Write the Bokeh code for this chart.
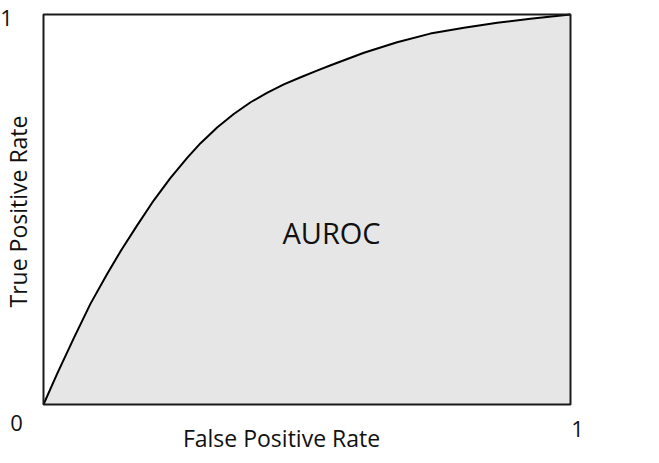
from bokeh.plotting import figure
from bokeh.models import ColumnDataSource
from bokeh.core.properties import value
from bokeh.embed import file_html
from bokeh.resources import INLINE
import math

# ROC curve
fpr = [0, 0.026, 0.0575, 0.089, 0.121, 0.148, 0.178, 0.209, 0.241, 0.273, 0.298,
       0.330, 0.361, 0.393, 0.424, 0.456, 0.488, 0.519, 0.545, 0.608, 0.671,
       0.734, 0.798, 0.861, 0.924, 1.0]
tpr = [0, 0.079, 0.170, 0.258, 0.335, 0.397, 0.460, 0.523, 0.581, 0.633, 0.670,
       0.711, 0.745, 0.775, 0.799, 0.821, 0.839, 0.856, 0.870, 0.902, 0.929,
       0.951, 0.966, 0.979, 0.989, 1.0]
baseline = [0] * len(fpr)

x_title = "False Positive Rate"
y_title = "True Positive Rate"
area_label = "AUROC"
tick_labels = ["0", "1", "1"]

FONT = "Open Sans"
W, H = 659, 463
# plot box in pixels: left 43, right 570, top 14, bottom 404
BOX_L, BOX_R, BOX_T, BOX_B = 43, 570, 14, 404
bw, bh = BOX_R - BOX_L, BOX_B - BOX_T
x_range = (-BOX_L / bw, (W - BOX_L) / bw)
y_range = (-(H - BOX_B) / bh, BOX_B / bh)

p = figure(width=W, height=H, x_range=x_range, y_range=y_range,
           x_axis_type=None, y_axis_type=None,
           output_backend="svg", toolbar_location=None,
           min_border=0)
p.grid.visible = False
p.background_fill_color = "white"
p.border_fill_color = "white"
p.outline_line_color = None

src = ColumnDataSource(dict(x=fpr, y=tpr, y0=baseline))
p.varea(x="x", y1="y0", y2="y", source=src, fill_color="#e6e6e6")
p.line(x="x", y="y", source=src, line_color="black", line_width=2,
       line_join="round")
# axes box
p.quad(left=[0], right=[1], bottom=[0], top=[1], fill_color=None,
       line_color="#1a1a1a", line_width=2)

def lab(text, x, y, dx, dy, size, angle=0.0):
    p.text(x=[x], y=[y], text=[text], x_offset=dx, y_offset=dy, angle=angle,
           text_font=value(FONT), text_font_size=f"{size}px",
           text_color="#111111", text_align="center", text_baseline="middle")

# tick-like labels
lab(tick_labels[0], 0, 0, -27, 18, 22)
lab(tick_labels[1], 0, 1, -37, 3, 22)
lab(tick_labels[2], 1, 0, 7, 24, 22)

# axis titles
lab(x_title, 0.5, 0, -25.5, 33, 23)
lab(y_title, 0, 0.5, -25.5, 2, 23, angle=math.pi / 2)

# area label
lab(area_label, 0.5, 0.5, 24.5, 23, 29)

open("out.html", "w").write(file_html(p, INLINE))
